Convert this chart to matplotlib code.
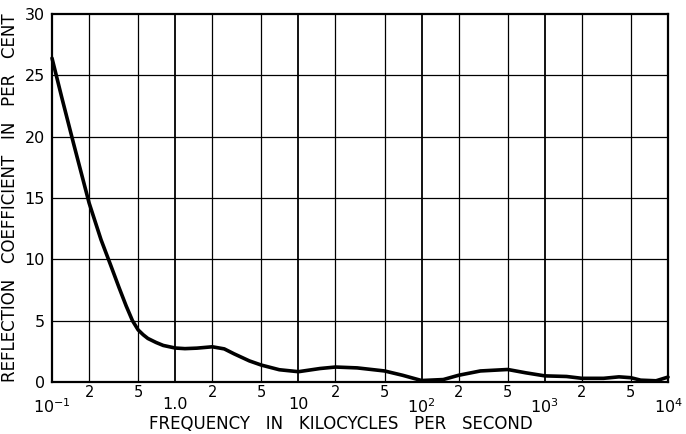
import numpy as np
import matplotlib.pyplot as plt

# reflection coefficient
freq = [0.1, 0.12, 0.15, 0.2, 0.25, 0.3, 0.35, 0.4, 0.45, 0.5, 0.55, 0.6, 0.7, 0.8,
        1.0, 1.2, 1.5, 2.0, 2.5, 3.0, 4.0, 5.0, 7.0, 10, 15, 20, 30, 50, 70, 100,
        150, 200, 300, 500, 700, 1000, 1500, 2000, 3000, 4000, 5000, 6000, 8000, 10000]
refl = [26.4, 23.2, 19.4, 14.6, 11.6, 9.5, 7.7, 6.2, 5.0, 4.25, 3.85, 3.55, 3.22, 2.98,
        2.77, 2.72, 2.76, 2.87, 2.7, 2.3, 1.72, 1.38, 1.0, 0.84, 1.1, 1.22, 1.15, 0.9,
        0.55, 0.12, 0.2, 0.55, 0.9, 1.02, 0.75, 0.5, 0.45, 0.3, 0.3, 0.42, 0.35, 0.15,
        0.1, 0.4]

major_ticks = [0.1, 1, 10, 100, 1000, 10000]
major_labels = ['10$^{-1}$', '1.0', '10', '10$^2$', '10$^3$', '10$^4$']
minor_ticks = [0.2, 0.5, 2, 5, 20, 50, 200, 500, 2000, 5000]
minor_labels = ['2', '5'] * 5
y_ticks = [0, 5, 10, 15, 20, 25, 30]

fig = plt.figure(figsize=(6.86, 4.34), dpi=100)
ax = fig.add_axes([52 / 686, 1 - 382 / 434, 616 / 686, 368 / 434])

ax.set_xscale('log')
ax.set_xlim(0.1, 10000)
ax.set_ylim(0, 30)

for x in major_ticks:
    ax.axvline(x, color='black', lw=1.3, zorder=1)
for x in minor_ticks:
    ax.axvline(x, color='black', lw=0.9, zorder=1)
for y in y_ticks[1:-1]:
    ax.axhline(y, color='black', lw=0.9, zorder=1)

ax.plot(freq, refl, color='black', lw=2.6, solid_joinstyle='round',
        solid_capstyle='round', zorder=3, clip_on=False)

ax.set_xticks(major_ticks)
ax.set_xticklabels(major_labels, fontsize=11.5)
ax.set_xticks(minor_ticks, minor=True)
ax.set_xticklabels(minor_labels, minor=True, fontsize=10.5)
ax.tick_params(axis='x', which='major', length=0, pad=11)
ax.tick_params(axis='x', which='minor', length=0, pad=2)
ax.set_yticks(y_ticks)
ax.set_yticklabels([str(v) for v in y_ticks], fontsize=11.5)
ax.tick_params(axis='y', length=0, pad=5)

for s in ax.spines.values():
    s.set_linewidth(1.6)

ax.set_xlabel('FREQUENCY   IN   KILOCYCLES   PER   SECOND', fontsize=12, labelpad=0)
ax.xaxis.set_label_coords((341 - 52) / 616, -0.09)
ax.set_ylabel('REFLECTION   COEFFICIENT   IN   PER   CENT', fontsize=12, labelpad=4)

fig.savefig('out.png', dpi=100)
